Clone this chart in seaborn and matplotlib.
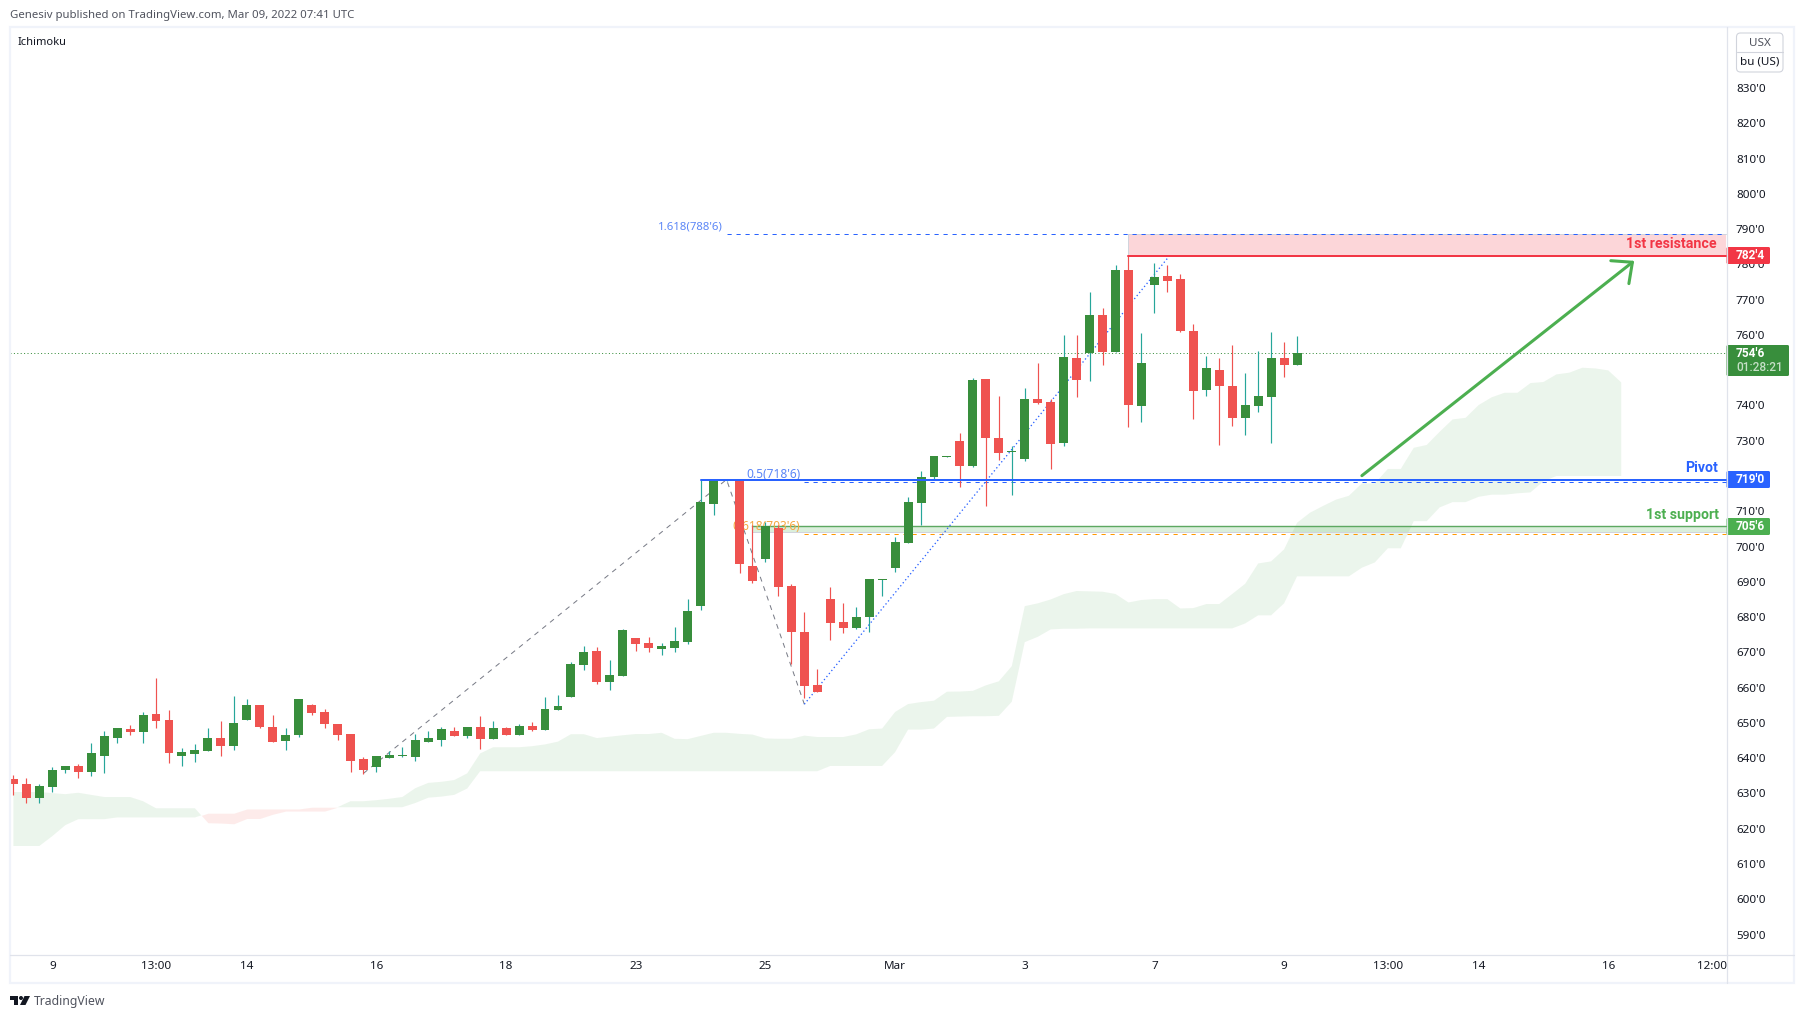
#!/usr/bin/env python
import matplotlib
matplotlib.use("Agg")
import matplotlib.pyplot as plt
import numpy as np
import seaborn as sns
from matplotlib.patches import FancyBboxPatch, Polygon, Circle, Rectangle

# candles, one per bar
opens = [
    634.1, 632.7, 628.7, 631.8, 636.6, 637.8, 636.1, 640.6, 645.7, 648.3,
    647.4, 652.5, 650.8, 640.6, 641.2, 642.0, 645.7, 643.4, 650.8, 655.1,
    648.8, 644.9, 646.6, 655.1, 653.1, 649.7, 646.8, 639.7, 637.5, 640.0,
    640.6, 640.3, 644.6, 645.1, 647.7, 646.3, 648.8, 645.4, 648.5, 646.6,
    649.1, 648.0, 653.6, 657.3, 666.4, 670.4, 661.6, 663.3, 674.1, 672.6,
    670.9, 671.2, 672.9, 683.1, 712.1, 718.6, 719.1, 694.5, 696.5, 705.2,
    688.8, 675.8, 660.7, 685.1, 678.6, 676.9, 680.0, 690.5, 693.9, 701.0,
    712.3, 719.7, 725.4, 729.9, 722.8, 747.5, 730.8, 726.85, 724.8, 741.8,
    741.0, 729.4, 753.5, 754.9, 765.6, 755.2, 778.4, 739.8, 774.2, 776.7,
    775.9, 761.1, 744.4, 750.1, 745.5, 736.4, 739.8, 742.4, 753.5, 751.5,
]
highs = [
    635.2, 634.4, 632.7, 637.5, 637.8, 638.3, 644.3, 647.7, 648.5, 649.4,
    653.1, 662.7, 653.6, 642.9, 644.0, 648.5, 650.5, 657.6, 656.8, 655.1,
    652.2, 648.5, 656.8, 655.3, 653.9, 649.7, 646.8, 640.3, 640.6, 642.0,
    643.1, 646.8, 647.7, 648.8, 648.8, 648.8, 651.9, 650.5, 648.8, 649.7,
    650.2, 657.3, 657.9, 667.3, 671.8, 671.5, 667.8, 676.6, 674.1, 674.3,
    672.6, 677.2, 685.1, 719.1, 719.1, 719.2, 719.2, 706.1, 706.9, 706.1,
    689.4, 681.4, 665.3, 688.5, 684.0, 682.8, 690.8, 690.8, 702.7, 714.0,
    721.4, 725.7, 725.7, 732.2, 747.8, 747.5, 742.7, 728.5, 745.0, 752.0,
    741.8, 760.0, 760.0, 772.2, 767.6, 779.8, 782.7, 760.5, 780.4, 779.8,
    777.3, 763.1, 754.0, 753.5, 757.1, 749.2, 755.4, 760.8, 758.0, 759.7,
]
lows = [
    629.5, 627.3, 627.3, 630.4, 635.8, 634.4, 634.9, 635.8, 644.3, 646.6,
    644.3, 648.5, 638.6, 637.8, 638.9, 642.0, 640.6, 642.3, 650.8, 648.5,
    644.6, 642.3, 646.0, 652.2, 648.5, 645.1, 636.1, 635.5, 636.1, 640.0,
    640.3, 639.2, 644.6, 643.4, 646.3, 645.7, 642.6, 645.4, 646.6, 646.6,
    647.7, 648.0, 653.6, 657.3, 665.0, 661.0, 659.3, 663.3, 670.4, 670.1,
    669.2, 670.1, 672.4, 682.0, 708.9, 718.6, 692.5, 689.7, 695.6, 686.0,
    666.7, 657.0, 658.7, 673.5, 675.5, 676.6, 675.8, 686.0, 692.8, 701.0,
    706.1, 718.9, 725.4, 716.9, 722.5, 711.5, 724.5, 714.6, 724.3, 740.4,
    722.0, 728.5, 742.4, 746.9, 751.5, 755.2, 733.9, 735.3, 766.2, 772.2,
    760.8, 736.2, 742.7, 728.8, 734.2, 731.6, 738.1, 729.4, 748.1, 751.5,
]
closes = [
    632.7, 628.7, 632.1, 636.6, 637.8, 636.1, 641.4, 646.3, 648.5, 647.4,
    652.2, 650.5, 641.4, 641.7, 642.3, 645.7, 643.4, 650.0, 655.1, 648.8,
    644.6, 646.6, 656.8, 652.8, 649.7, 646.6, 639.2, 636.6, 640.6, 640.9,
    640.9, 645.1, 645.7, 648.3, 646.3, 648.8, 645.4, 648.5, 646.6, 649.1,
    648.0, 653.9, 654.8, 666.7, 670.1, 661.6, 663.6, 676.3, 672.4, 671.2,
    671.8, 673.2, 681.7, 712.6, 718.9, 719.1, 695.0, 690.2, 705.8, 688.5,
    675.8, 660.4, 658.7, 678.3, 676.9, 680.0, 690.8, 690.8, 701.3, 712.6,
    719.7, 725.7, 725.7, 722.8, 747.2, 730.8, 726.5, 727.15, 741.8, 740.7,
    729.1, 753.8, 747.2, 765.6, 755.2, 778.4, 740.1, 752.0, 776.4, 775.3,
    761.1, 744.1, 750.6, 745.5, 736.4, 740.1, 742.7, 753.5, 751.5, 754.75,
]

# ichimoku cloud, runs 25 bars past the last candle
span_a = [
    630.4, 630.4, 630.4, 630.1, 629.8, 630.2, 629.6, 629.0, 629.0, 629.0,
    627.8, 625.8, 625.8, 625.8, 625.8, 621.7, 621.6, 621.4, 622.9, 622.9,
    624.1, 625.0, 625.0, 625.0, 625.0, 626.1, 627.8, 627.8, 628.1, 628.5,
    629.0, 631.5, 633.0, 633.3, 633.8, 635.7, 641.35, 643.1, 643.1, 643.1,
    643.4, 643.9, 644.7, 646.8, 646.8, 645.7, 646.1, 646.5, 646.85, 646.85,
    647.2, 645.5, 645.4, 646.3, 647.2, 647.2, 646.9, 646.7, 645.6, 645.5,
    645.5, 646.4, 646.0, 646.0, 646.0, 646.75, 648.2, 648.4, 653.1, 655.35,
    655.9, 656.3, 658.85, 658.9, 659.1, 660.65, 661.8, 666.1, 683.1, 683.9,
    685.0, 686.5, 687.4, 687.3, 687.2, 686.55, 684.15, 684.85, 685.1, 685.1,
    682.45, 682.55, 683.7, 683.7, 686.55, 689.45, 695.2, 695.8, 699.2, 706.75,
    709.6, 711.5, 713.3, 714.4, 717.9, 717.9, 722.0, 722.0, 728.0, 728.8,
    732.55, 736.05, 736.5, 740.1, 742.3, 743.6, 743.6, 746.35, 746.65, 748.8,
    749.3, 750.7, 750.5, 749.95, 746.55,
]
span_b = [
    615.1, 615.1, 615.1, 617.9, 621.0, 622.7, 622.7, 622.7, 623.2, 623.2,
    623.2, 623.2, 623.2, 623.2, 623.2, 624.4, 624.4, 624.4, 625.6, 625.6,
    625.6, 625.6, 625.6, 626.1, 626.1, 626.1, 626.1, 626.1, 626.1, 626.1,
    626.1, 627.3, 628.8, 629.1, 629.6, 631.4, 636.3, 636.3, 636.3, 636.3,
    636.3, 636.3, 636.3, 636.3, 636.3, 636.3, 636.3, 636.3, 636.3, 636.3,
    636.3, 636.3, 636.3, 636.3, 636.3, 636.3, 636.3, 636.3, 636.3, 636.3,
    636.3, 636.3, 636.3, 637.8, 637.8, 637.8, 637.8, 637.8, 641.7, 648.1,
    648.1, 648.4, 651.7, 651.8, 651.9, 651.9, 652.0, 656.0, 672.9, 674.4,
    676.5, 676.7, 676.7, 676.8, 676.8, 676.8, 676.8, 676.8, 676.8, 676.8,
    676.8, 676.8, 676.8, 676.8, 676.8, 678.2, 680.5, 680.5, 683.9, 691.55,
    691.55, 691.55, 691.55, 691.55, 694.0, 695.5, 699.5, 699.5, 707.2, 707.2,
    711.1, 712.6, 712.6, 714.1, 714.7, 714.7, 715.1, 715.35, 718.5, 720.0,
    720.0, 720.0, 720.0, 720.0, 720.0,
]

# axis labels, 720'0 and 750'0 sit behind the price badges in the reference
price_ticks = [590, 600, 610, 620, 630, 640, 650, 660, 670, 680, 690, 700, 710,
               730, 740, 760, 770, 780, 790, 800, 810, 820, 830]
price_labels = ["590'0", "600'0", "610'0", "620'0", "630'0", "640'0", "650'0",
                "660'0", "670'0", "680'0", "690'0", "700'0", "710'0",
                "730'0", "740'0", "760'0", "770'0", "780'0", "790'0",
                "800'0", "810'0", "820'0", "830'0"]
time_ticks = [3, 11, 18, 28, 38, 48, 58, 68, 78, 88, 98, 106, 113, 123, 131]
time_labels = ["9", "13:00", "14", "16", "18", "23", "25", "Mar", "3", "7", "9",
               "13:00", "14", "16", "12:00"]

# drawn levels and trend tools
pivot = 719.0
support = 705.75
support_low = 704.0
resistance = 782.5
resistance_high = 788.75
fib_05 = 718.4
fib_618 = 703.7
fib_1618 = 788.75
last_price = 754.75
fib_path_x = [27, 55, 61]
fib_path_y = [635.7, 719.0, 655.3]
trend_x = [61, 89]
trend_y = [655.3, 781.7]
arrow_x = [104, 125]
arrow_y = [720.1, 781.0]

GREEN = "#388e3c"
TEAL = "#26a69a"
RED = "#ef5350"
LEVEL_RED = "#f23645"
BLUE = "#2962ff"
LIGHT_GREEN = "#4caf50"
ORANGE = "#ff9800"
TEXT = "#131722"
FRAME = "#f0f3fa"
BORDER = "#e0e3eb"

sns.set_theme(style="white")
plt.rcParams["font.family"] = ["Noto Sans", "DejaVu Sans"]
BOLD = ["Roboto", "DejaVu Sans"]

W, H = 1804, 1018
XLIM = (-0.30, 132.12)
YLIM = (584.2, 847.3)


def trace(ax, x, y, color, width_px, style, z):
    sns.lineplot(
        x=x, y=y, ax=ax, color=color, linewidth=width_px * 0.72, linestyle=style,
        estimator=None, sort=False, legend=False, zorder=z,
    )


fig = plt.figure(figsize=(W / 100, H / 100), dpi=100, facecolor="white")
ax = fig.add_axes([9.5 / W, 1 - 955 / H, 1717 / W, 928 / H])

# cloud
cloud_x = np.arange(len(span_a))
a, b = np.array(span_a), np.array(span_b)
ax.fill_between(cloud_x, a, b, where=a >= b, interpolate=True, color="#43a047",
                alpha=0.1, linewidth=0, zorder=1)
ax.fill_between(cloud_x, a, b, where=a < b, interpolate=True, color="#f44336",
                alpha=0.1, linewidth=0, zorder=1)

# rectangles
ax.fill_between([86, XLIM[1]], resistance, resistance_high, color=LEVEL_RED, alpha=0.2,
                linewidth=0, zorder=1.5)
trace(ax, [86, 86, XLIM[1]], [resistance, resistance_high, resistance_high], "#d1d4dc", 1, "-", 1.6)
ax.fill_between([57, XLIM[1]], support_low, support, color=LIGHT_GREEN, alpha=0.2,
                linewidth=0, zorder=1.5)
trace(ax, [57, XLIM[1]], [support_low, support_low], "#d1d4dc", 1, "-", 1.6)
trace(ax, [57, XLIM[1]], [support, support], "#5da861", 1.4, "-", 1.7)

# fib tools and last price, candles sit on top of these
dash = (0, (4.2, 4.8))
trace(ax, [61, XLIM[1]], [fib_05, fib_05], BLUE, 1, dash, 2)
trace(ax, [61, XLIM[1]], [fib_618, fib_618], ORANGE, 1, dash, 2)
trace(ax, [55, XLIM[1]], [fib_1618, fib_1618], BLUE, 1, dash, 2)
trace(ax, fib_path_x, fib_path_y, "#787b86", 1, (0, (5, 5)), 2)
trace(ax, trend_x, trend_y, BLUE, 1.3, (0, (1, 2)), 2)
trace(ax, list(XLIM), [last_price, last_price], GREEN, 1, (0, (1, 2.4)), 2)

ax.text(60.7, fib_05 + 2.1, "0.5(718'6)", color="#5b86f7", fontsize=8.6, ha="right",
        va="center", zorder=2)
ax.text(60.7, fib_618 + 2.0, "0.618(703'6)", color="#f5a742", fontsize=8.6, ha="right",
        va="center", zorder=2)
ax.text(54.7, fib_1618 + 1.9, "1.618(788'6)", color="#5b86f7", fontsize=8.2, ha="right",
        va="center", zorder=2)

# candles
bar_x = np.arange(len(opens))
o, h, l, c = map(np.array, (opens, highs, lows, closes))
up = c >= o
ax.vlines(bar_x[up], l[up], h[up], color=TEAL, linewidth=0.85, zorder=3)
ax.vlines(bar_x[~up], l[~up], h[~up], color=RED, linewidth=0.85, zorder=3)
ax.bar(bar_x[up], (c - o)[up], bottom=o[up], width=0.69, color=GREEN, linewidth=0, zorder=3.5)
ax.bar(bar_x[~up], (o - c)[~up], bottom=c[~up], width=0.69, color=RED, linewidth=0, zorder=3.5)

# levels above the candles
trace(ax, [86, XLIM[1]], [resistance, resistance], LEVEL_RED, 2, "-", 4)
trace(ax, [53, XLIM[1]], [pivot, pivot], BLUE, 2, "-", 4)
ax.annotate(
    "", xy=(arrow_x[1], arrow_y[1]), xytext=(arrow_x[0], arrow_y[0]), zorder=4,
    arrowprops=dict(arrowstyle="->,head_length=1.15,head_width=1.05", color=LIGHT_GREEN,
                    lw=2.2, mutation_scale=10, shrinkA=0, shrinkB=0),
)

ax.set_xlim(*XLIM)
ax.set_ylim(*YLIM)
ax.set_xlabel("")
ax.set_ylabel("")
ax.yaxis.tick_right()
ax.set_yticks(price_ticks, price_labels)
ax.set_xticks(time_ticks, time_labels)
ax.tick_params(axis="y", length=0, pad=6.8, labelsize=8.4, labelcolor=TEXT)
ax.tick_params(axis="x", length=0, pad=4.5, labelsize=8.4, labelcolor=TEXT)
sns.despine(ax=ax, left=True, bottom=True, right=True, top=True)

# chrome on top, in image pixels
px = fig.add_axes([0, 0, 1, 1], facecolor="none", zorder=5)
px.set_xlim(0, W)
px.set_ylim(H, 0)
px.axis("off")

px.add_patch(Rectangle((10, 27), 1784, 956, fill=False, edgecolor=FRAME, linewidth=1.6))
px.plot([1726.5, 1726.5], [27, 983], color=BORDER, linewidth=0.9)
px.plot([10, 1794], [955, 955], color=BORDER, linewidth=0.9)

px.text(10, 15, "Genesiv published on TradingView.com, Mar 09, 2022 07:41 UTC",
        color="#50535e", fontsize=8.2, va="center")
px.text(18, 42, "Ichimoku", color=TEXT, fontsize=8.0, va="center")

# USX unit button
px.add_patch(FancyBboxPatch((1736.5, 33), 46.5, 39, boxstyle="round,pad=0,rounding_size=4",
                            facecolor="white", edgecolor="#d1d4dc", linewidth=0.8))
px.plot([1736.5, 1783], [52, 52], color="#d1d4dc", linewidth=0.8)
px.text(1760, 43, "USX", color="#50535e", fontsize=8.4, ha="center", va="center")
px.text(1760, 61.5, "bu (US)", color=TEXT, fontsize=8.4, ha="center", va="center")


def badge(top, bottom, right, color):
    px.add_patch(FancyBboxPatch((1726.5, top), right - 1726.5, bottom - top,
                                boxstyle="round,pad=0,rounding_size=1.5",
                                facecolor=color, edgecolor="none", linewidth=0))


def badge_text(y, text, color="white", weight="bold"):
    px.text(1736, y, text, color=color, fontsize=8.6, fontweight=weight, family=BOLD, va="center")


badge(247, 264, 1770, LEVEL_RED)
badge_text(255.5, "782'4")
badge(471, 488, 1770, BLUE)
badge_text(479.5, "719'0")
badge(518, 535, 1770, LIGHT_GREEN)
badge_text(526.5, "705'6")
badge(345, 376, 1789, GREEN)
badge_text(353.5, "754'6")
badge_text(367.5, "01:28:21", color="#c5dfc6", weight="medium")

px.text(1717, 244, "1st resistance", color=LEVEL_RED, fontsize=10.2, fontweight="bold",
        family=BOLD, ha="right", va="center")
px.text(1717.5, 468, "Pivot", color=BLUE, fontsize=10.2, fontweight="bold", family=BOLD,
        ha="right", va="center")
px.text(1719, 515, "1st support", color=LIGHT_GREEN, fontsize=10.2, fontweight="bold",
        family=BOLD, ha="right", va="center")

# TradingView mark
px.add_patch(Polygon([(10, 996), (18, 996), (18, 1005), (14, 1005), (14, 1000), (10, 1000)],
                     closed=True, facecolor=TEXT, edgecolor="none"))
px.add_patch(Circle((21, 998), 2, facecolor=TEXT, edgecolor="none"))
px.add_patch(Polygon([(24.5, 996), (30, 996), (25.5, 1005), (20, 1005)],
                     closed=True, facecolor=TEXT, edgecolor="none"))
px.text(34, 1001, "TradingView", color="#50535e", fontsize=8.8, va="center")

fig.savefig("out.png", dpi=100)
